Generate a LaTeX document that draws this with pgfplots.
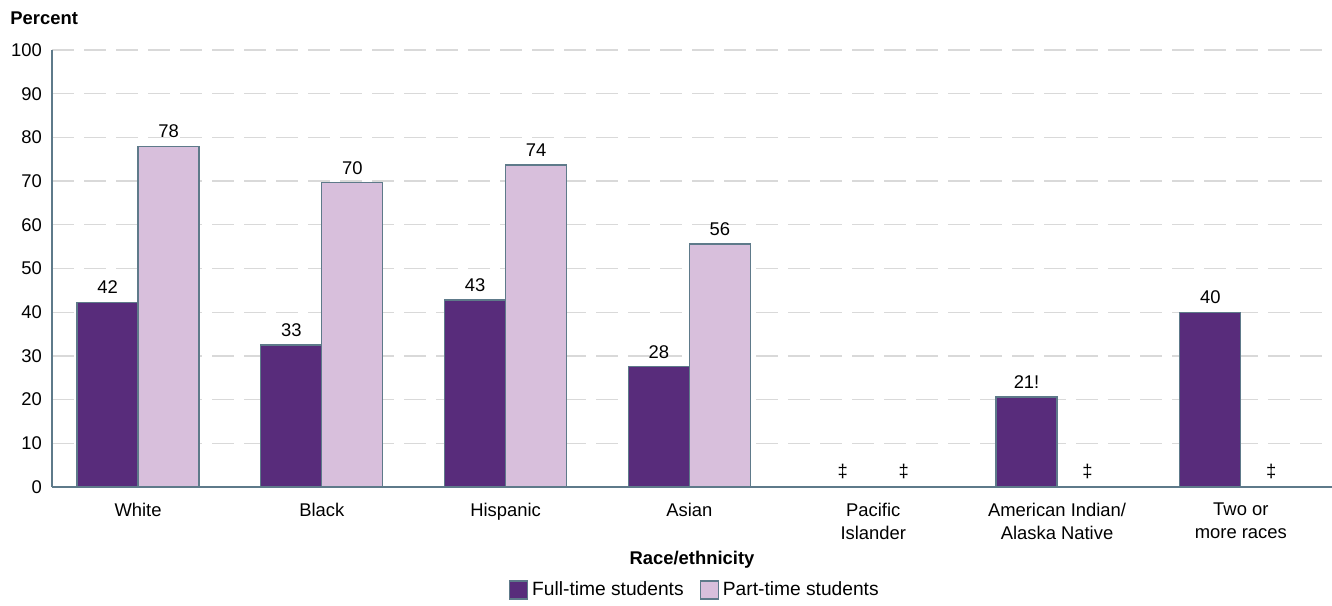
\documentclass[border=0pt]{standalone}
\usepackage{pgfplots}
\pgfplotsset{compat=1.18}
\usepackage{fontspec}
\setmainfont{Liberation Sans}
\definecolor{fullc}{HTML}{582C7B}
\definecolor{partc}{HTML}{D8BFDC}
\definecolor{edgec}{HTML}{5E7A8A}
\definecolor{gridc}{HTML}{D9D9D9}
\newcommand{\chartfont}{\fontsize{9.2}{11.5}\selectfont}
\begin{document}
\begin{tikzpicture}[font=\chartfont]
\useasboundingbox (-26pt,-59pt) rectangle (640pt,243.5pt);
\begin{axis}[
  at={(0pt,0pt)}, anchor=south west,
  scale only axis, width=640pt, height=218.5pt,
  xmin=-0.468, xmax=6.496, ymin=0, ymax=100,
  ytick={0,10,...,100}, xtick={0,...,6},
  xticklabels={White, Black, Hispanic, Asian, {Pacific\\Islander}, {American Indian/\\Alaska Native}, {Two or\\more races}},
  xticklabel style={align=center, yshift=-4.5pt, font=\chartfont},
  yticklabel style={xshift=-1.5pt, font=\chartfont},
  /pgf/number format/assume math mode=true,
  major tick length=0pt,
  axis x line*=bottom, axis y line*=left,
  axis line style={draw=edgec, line width=0.8pt, -},
  ymajorgrids, grid style={gridc, dash pattern=on 11pt off 5pt, line width=0.7pt},
  ybar=0pt, bar width=30.5pt,
  point meta=explicit symbolic,
  nodes near coords,
  nodes near coords style={font=\chartfont, yshift=0.5pt, text=black},
  xlabel={\textbf{Race/ethnicity}},
  xlabel style={at={(axis description cs:0.5,-0.167)}, anchor=center, font=\chartfont},
  legend columns=2,
  legend style={draw=none, fill=none, at={(axis description cs:0.503,-0.2357)}, anchor=center, font=\fontsize{9.6}{11.5}\selectfont, /tikz/every even column/.append style={column sep=6pt}},
  legend image code/.code={\draw[#1,draw=edgec,line width=0.6pt] (0pt,-4.5pt) rectangle (9pt,4.5pt);},
]
\addplot[fill=fullc, draw=edgec, line width=0.6pt] coordinates {
 (0,42.3)[42] (1,32.5)[33] (2,42.8)[43] (3,27.5)[28] (4,0)[‡] (5,20.6)[21!] (6,40.0)[40]
};
\addplot[fill=partc, draw=edgec, line width=0.6pt] coordinates {
 (0,78.0)[78] (1,69.6)[70] (2,73.7)[74] (3,55.6)[56] (4,0)[‡] (5,0)[‡] (6,0)[‡]
};
\legend{Full-time students, Part-time students}
\end{axis}
\node[anchor=west, font=\chartfont\bfseries, inner sep=0pt] at (-21pt,234.5pt) {Percent};
\end{tikzpicture}
\end{document}
